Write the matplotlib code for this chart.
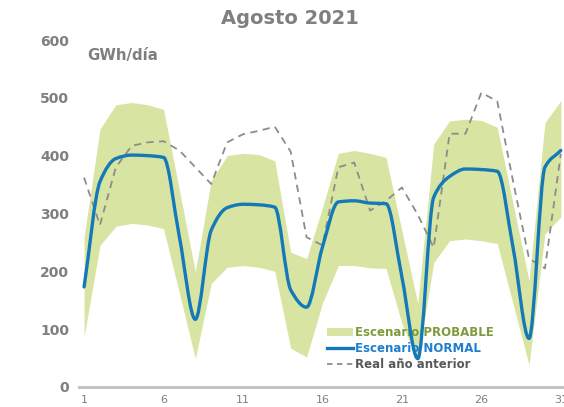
import numpy as np
import matplotlib
matplotlib.use("Agg")
import matplotlib.pyplot as plt
from matplotlib.path import Path
from matplotlib.patches import PathPatch, Patch
from matplotlib.lines import Line2D

days = list(range(1, 32))
prob_upper = [259, 446, 488, 492, 488, 480, 340, 199, 357, 400, 404, 402, 391, 233, 222,
              310, 404, 409, 404, 397, 270, 144, 420, 460, 463, 461, 449, 316, 184, 457, 495]
prob_lower = [87, 245, 278, 283, 280, 274, 162, 49, 179, 207, 210, 207, 200, 67, 52,
              145, 210, 210, 206, 205, 110, 45, 215, 253, 256, 253, 248, 143, 38, 265, 294]
normal = [173, 355, 395, 401, 400, 397, 259, 117, 271, 310, 316, 315, 311, 168, 138,
          242, 320, 322, 318, 317, 190, 49, 328, 364, 377, 376, 373, 240, 84, 380, 409]
previous = [362, 280, 380, 417, 423, 425, 409, 380, 351, 423, 437, 443, 450, 407, 259,
            245, 380, 388, 305, 322, 345, 298, 241, 438, 438, 509, 494, 355, 222, 205, 403]
xticks = [1, 6, 11, 16, 21, 26, 31]
yticks = [0, 100, 200, 300, 400, 500, 600]

GRAY = "#7f7f7f"
GREEN_FILL = "#d8e4a2"
GREEN_TXT = "#7f9a3c"
BLUE = "#1479b8"
BLUE_TXT = "#1f7fcf"
DASH = "#8c8c8c"


def monotone_path(x, y):
    """Smooth monotone cubic (Fritsch-Carlson) through the data, as Bezier curves."""
    x = np.asarray(x, float)
    y = np.asarray(y, float)
    h = np.diff(x)
    d = np.diff(y) / h
    m = np.zeros_like(y)
    m[0], m[-1] = d[0], d[-1]
    for i in range(1, len(y) - 1):
        if d[i - 1] * d[i] > 0:
            w1 = 2 * h[i] + h[i - 1]
            w2 = h[i] + 2 * h[i - 1]
            m[i] = (w1 + w2) / (w1 / d[i - 1] + w2 / d[i])
    verts = [(x[0], y[0])]
    codes = [Path.MOVETO]
    for i in range(len(x) - 1):
        verts += [(x[i] + h[i] / 3, y[i] + m[i] * h[i] / 3),
                  (x[i + 1] - h[i] / 3, y[i + 1] - m[i + 1] * h[i] / 3),
                  (x[i + 1], y[i + 1])]
        codes += [Path.CURVE4] * 3
    return Path(verts, codes)


fig = plt.figure(figsize=(5.64, 4.07), dpi=100)
ax = fig.add_axes([79 / 564, 20 / 407, 485 / 564, 347 / 407])

ax.fill_between(days, prob_lower, prob_upper, color=GREEN_FILL, linewidth=0, zorder=1)
ax.plot(days, previous, color=DASH, linewidth=1.3, dashes=(4, 3), zorder=3)
ax.add_patch(PathPatch(monotone_path(days, normal), fill=False, edgecolor=BLUE,
                       linewidth=2.4, capstyle="round", joinstyle="round", zorder=4))

ax.set_xlim(0.68, 31.2)
ax.set_ylim(0, 600)
ax.set_xticks(xticks)
ax.set_yticks(yticks)
ax.tick_params(axis="x", length=0, pad=6, labelsize=8, labelcolor=GRAY)
ax.tick_params(axis="y", length=0, pad=7, labelsize=10, labelcolor=GRAY)
for lab in ax.get_yticklabels():
    lab.set_fontweight("bold")
for s in ["left", "right", "top"]:
    ax.spines[s].set_visible(False)
ax.spines["bottom"].set_color("#c4c4c4")
ax.spines["bottom"].set_linewidth(2.2)

fig.text(290 / 564, 1 - 18 / 407, "Agosto 2021", ha="center", va="center",
         fontsize=14, fontweight="bold", color=GRAY)
ax.text(0.018, 0.978, "GWh/día", transform=ax.transAxes, ha="left", va="top",
        fontsize=10.8, fontweight="bold", color=GRAY)

handles = [Patch(facecolor=GREEN_FILL, edgecolor="none"),
           Line2D([], [], color=BLUE, linewidth=2.4),
           Line2D([], [], color=DASH, linewidth=1.3, dashes=(3, 2.5))]
labels = ["Escenario PROBABLE", "Escenario NORMAL", "Real año anterior"]
leg = ax.legend(handles, labels, loc="lower left", bbox_to_anchor=(0.511, 0.045),
                frameon=False, fontsize=8.5, handlelength=2.2, handleheight=0.7,
                handletextpad=0.2, labelspacing=0.28, borderaxespad=0, borderpad=0)
leg.set_zorder(2)
for txt, c in zip(leg.get_texts(), [GREEN_TXT, BLUE_TXT, "#595959"]):
    txt.set_color(c)
    txt.set_fontweight("bold")

fig.savefig("out.png", dpi=100)
